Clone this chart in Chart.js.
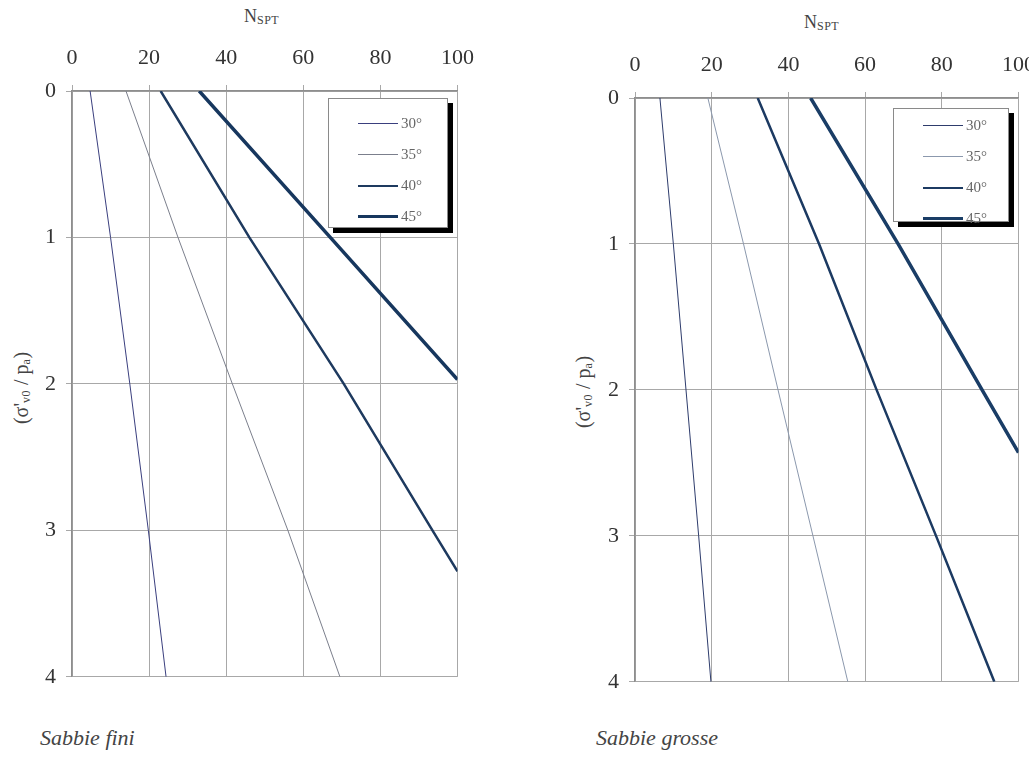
<!DOCTYPE html>
<html>
<head>
<meta charset="utf-8">
<script src="https://cdn.jsdelivr.net/npm/chart.js@4.4.1/dist/chart.umd.min.js"></script>
<style>
  html, body { margin: 0; padding: 0; background: #fff; overflow: hidden; }
  body { width: 1029px; height: 773px; position: relative; font-family: "Liberation Serif", "DejaVu Serif", serif; color: #333; }
  .plot { position: absolute; }
  .axis-title { position: absolute; font-size: 18px; color: #444; white-space: nowrap; }
  .axis-title sub { font-size: 12px; vertical-align: -2px; letter-spacing: 0.5px; }
  .y-title { transform: translate(-50%, -50%) rotate(-90deg); font-size: 20px; }
  .y-title sub { font-size: 12px; }
  .caption { position: absolute; font-style: italic; font-size: 22px; color: #444; }
  .legend { position: absolute; background: #fff; border: 1px solid #8a8a8a; box-shadow: 5px 5px 0 #000; box-sizing: border-box; padding-top: 9px; }
  .legend .item { display: flex; align-items: center; height: 31px; padding-left: 29px; }
  .legend .swatch { width: 40px; margin-right: 3px; }
  .legend .label { font-size: 15px; color: #666; }
</style>
</head>
<body>

<div class="axis-title" style="left:244px; top:6px;">N<sub>SPT</sub></div>
<div class="axis-title" style="left:804px; top:12px;">N<sub>SPT</sub></div>
<div class="axis-title y-title" style="left:22px; top:388px;">(σ'<sub>v0</sub> / p<sub>a</sub>)</div>
<div class="axis-title y-title" style="left:584px; top:392px;">(σ'<sub>v0</sub> / p<sub>a</sub>)</div>

<div class="plot" style="left:0; top:0; width:488px; height:700px;"><canvas id="fini"></canvas></div>
<div class="plot" style="left:560px; top:0; width:489px; height:705px;"><canvas id="grosse"></canvas></div>

<div class="legend" id="legendFini" style="left:328px; top:98px; width:120px; height:130px;"></div>
<div class="legend" id="legendGrosse" style="left:893px; top:108px; width:116px; height:114px; padding-top:1px;"></div>

<div class="caption" style="left:40px; top:725px;">Sabbie fini</div>
<div class="caption" style="left:596px; top:725px;">Sabbie grosse</div>

<script>
// friction angle curves
const angleLabels = ['30°', '35°', '40°', '45°'];

// N_SPT ticks and stress ratio ticks
const nTicks = [0, 20, 40, 60, 80, 100];
const stressTicks = [0, 1, 2, 3, 4];

// fine sands: stress ratio (depth) and N_SPT per curve
const fineDepth30 = [0, 1, 2, 3, 4];
const fineN30 = [4.7, 10, 15, 19.8, 24.4];
const fineDepth35 = [0, 1, 2, 3, 4];
const fineN35 = [14, 27.5, 41.6, 56, 69.5];
const fineDepth40 = [0, 1, 2, 3, 3.28];
const fineN40 = [23, 46, 70.5, 93.5, 100];
const fineDepth45 = [0, 1, 1.97];
const fineN45 = [33, 67, 100];

// coarse sands
const coarseDepth30 = [0, 1, 2, 3, 4];
const coarseN30 = [6.5, 10, 13.3, 16.6, 19.8];
const coarseDepth35 = [0, 1, 2, 3, 4];
const coarseN35 = [19, 28.3, 37.3, 46.4, 55.5];
const coarseDepth40 = [0, 1, 2, 3, 4];
const coarseN40 = [32, 48, 63, 78.5, 93.7];
const coarseDepth45 = [0, 1, 2, 2.43];
const coarseN45 = [45.8, 68.6, 90.5, 100];

const tickFont = { family: '"Liberation Serif", "DejaVu Serif", serif', size: 22 };

function pairs(ys, xs) {
  return xs.map((x, i) => ({ x: x, y: ys[i] }));
}

function makeDatasets(series, styles) {
  return series.map((s, i) => ({
    label: angleLabels[i],
    data: pairs(s[0], s[1]),
    borderColor: styles[i].color,
    borderWidth: styles[i].width,
    pointRadius: 0,
    showLine: true,
    tension: 0,
    fill: false
  }));
}

function buildLegend(el, datasets) {
  datasets.forEach(ds => {
    const row = document.createElement('div');
    row.className = 'item';
    const sw = document.createElement('div');
    sw.className = 'swatch';
    sw.style.borderTop = ds.borderWidth + 'px solid ' + ds.borderColor;
    const lb = document.createElement('span');
    lb.className = 'label';
    lb.textContent = ds.label;
    row.appendChild(sw);
    row.appendChild(lb);
    el.appendChild(row);
  });
}

function makeChart(id, datasets, layout) {
  return new Chart(document.getElementById(id), {
    type: 'scatter',
    data: { datasets: datasets },
    options: {
      responsive: true,
      maintainAspectRatio: false,
      animation: false,
      layout: { padding: layout.padding },
      plugins: { legend: { display: false }, tooltip: { enabled: false } },
      scales: {
        x: {
          type: 'linear',
          position: 'top',
          min: 0,
          max: 100,
          afterBuildTicks: scale => { scale.ticks = nTicks.map(v => ({ value: v })); },
          afterFit: scale => { scale.height = layout.top; },
          ticks: { font: tickFont, color: '#333', padding: 14, maxRotation: 0 },
          grid: { color: '#a8a8a8', lineWidth: 1, tickLength: 6 },
          border: { color: '#8e8e8e', width: 1.5 }
        },
        y: {
          type: 'linear',
          reverse: true,
          min: 0,
          max: 4,
          afterBuildTicks: scale => { scale.ticks = stressTicks.map(v => ({ value: v })); },
          afterFit: scale => { scale.width = layout.left; },
          ticks: { font: tickFont, color: '#333', padding: 10 },
          grid: { color: '#a8a8a8', lineWidth: 1, tickLength: 6 },
          border: { color: '#8e8e8e', width: 1.5 }
        }
      }
    }
  });
}

const fineSets = makeDatasets(
  [[fineDepth30, fineN30], [fineDepth35, fineN35], [fineDepth40, fineN40], [fineDepth45, fineN45]],
  [{ color: '#3a3f7e', width: 1 }, { color: '#7b7f8c', width: 1 }, { color: '#1e3a5f', width: 2.5 }, { color: '#17375e', width: 3.5 }]
);
const coarseSets = makeDatasets(
  [[coarseDepth30, coarseN30], [coarseDepth35, coarseN35], [coarseDepth40, coarseN40], [coarseDepth45, coarseN45]],
  [{ color: '#2e3c6c', width: 1 }, { color: '#8b98ad', width: 1 }, { color: '#1c3a62', width: 2.5 }, { color: '#1a3d66', width: 3.5 }]
);

makeChart('fini', fineSets, { left: 72, top: 91, padding: { right: 17, bottom: 21 } });
makeChart('grosse', coarseSets, { left: 75, top: 98, padding: { right: 17, bottom: 22 } });

buildLegend(document.getElementById('legendFini'), fineSets);
buildLegend(document.getElementById('legendGrosse'), coarseSets);
</script>
</body>
</html>
